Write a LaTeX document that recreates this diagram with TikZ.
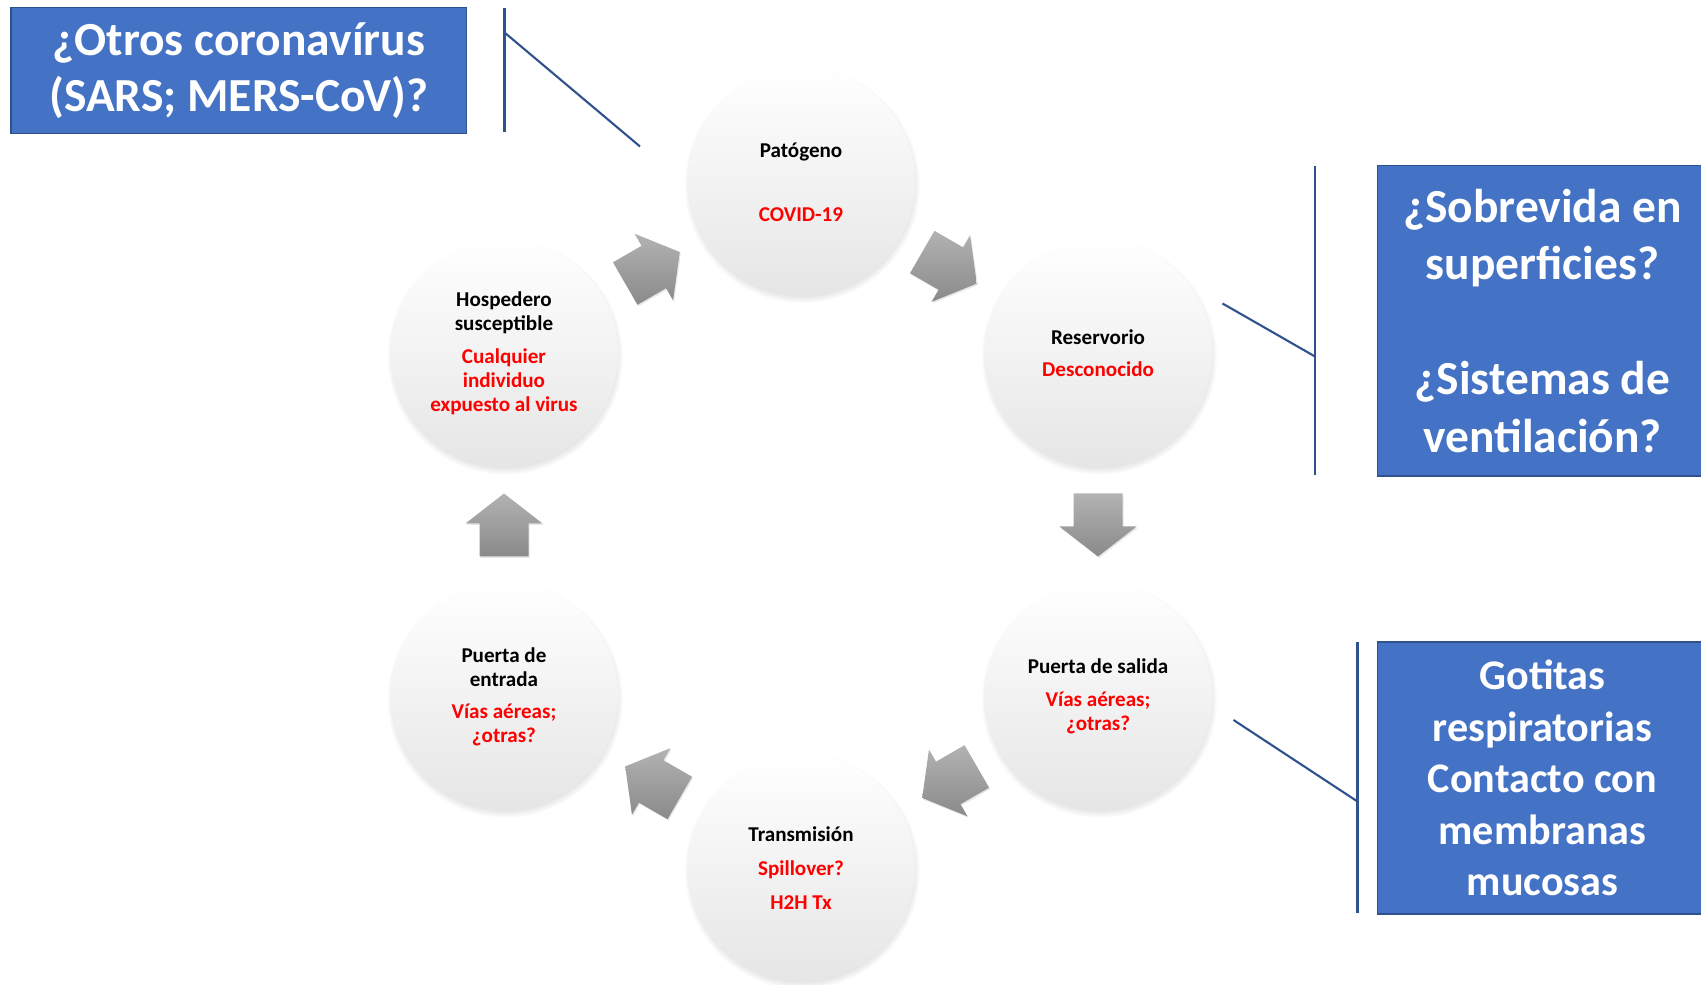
\documentclass[tikz,border=0pt]{standalone}
\usepackage{fontspec}
\setmainfont{Carlito}
\usepackage{tikz}
\usetikzlibrary{calc,positioning,shadows,fadings}
\definecolor{boxblue}{RGB}{68,114,196}
\definecolor{boxedge}{RGB}{47,82,143}
\definecolor{linkblue}{RGB}{47,82,143}
\newcommand\rl[1]{\textcolor{red}{#1}}

\tikzset{
  stage/.style={circle,minimum size=4.56cm,inner sep=0pt,align=center,
    font=\fontsize{12pt}{13.66pt}\selectfont\bfseries,
    top color=white,bottom color=black!10,
    circular drop shadow={shadow xshift=0.02cm,shadow yshift=-0.06cm,shadow scale=1.035,opacity=0.45}},
  qbox/.style={rectangle,fill=boxblue,draw=boxedge,line width=0.9pt,text=white,
    align=center,inner sep=0pt},
  link/.style={draw=linkblue,line width=1.2pt},
  arrowfill/.style={top color=black!30,bottom color=black!46,
    drop shadow={shadow xshift=0.02cm,shadow yshift=-0.03cm,opacity=0.2}},
  cyclearrow/.pic={
    \path[arrowfill] (-0.63,-0.49) -- (0.03,-0.49) -- (0.03,-0.77) -- (0.63,0)
      -- (0.03,0.77) -- (0.03,0.49) -- (-0.63,0.49) -- cycle;
  }
}

\begin{document}
\begin{tikzpicture}
  \useasboundingbox (0,0) rectangle (34.02,19.70);
  % the cycle
  \coordinate (hub) at (16.02,9.20);
  \foreach \a in {0,60,120,180,240,300}
    \pic[rotate=\a-90] at ($(hub)+(\a:5.94)$) {cyclearrow};
  \node[stage] (pat) at ($(hub)+(90:6.86)$) {Patógeno\\[22.8pt]\rl{COVID-19}};
  \node[stage] (res) at ($(hub)+(30:6.86)$) {Reservorio\\[4.6pt]\rl{Desconocido}};
  \node[stage] (sal) at ($(hub)+(-30:6.86)$) {Puerta de salida\\[5.1pt]\rl{Vías aéreas;}\\\rl{¿otras?}};
  \node[stage] (tra) at ($(hub)+(-90:6.86)$) {Transmisión\\[5.6pt]\rl{Spillover?}\\[5.6pt]\rl{H2H Tx}};
  \node[stage] (ent) at ($(hub)+(-150:6.86)$) {Puerta de\\entrada\\[4.6pt]\rl{Vías aéreas;}\\\rl{¿otras?}};
  \node[stage] (hos) at ($(hub)+(150:6.86)$) {Hospedero\\susceptible\\[5.1pt]\rl{Cualquier}\\\rl{individuo}\\\rl{expuesto al virus}};
  % question boxes
  \node[qbox,minimum width=9.11cm,minimum height=2.52cm,
    font=\fontsize{27pt}{32.1pt}\selectfont\bfseries] (q1) at (4.775,18.29)
    {¿Otros coronavírus\\(SARS; MERS-CoV)?};
  \node[qbox,minimum width=6.6cm,minimum height=6.21cm,
    font=\fontsize{27pt}{32.7pt}\selectfont\bfseries] (q2) at (30.85,13.285)
    {¿Sobrevida en\\superficies?\\[32.7pt]¿Sistemas de\\ventilación?};
  \node[qbox,minimum width=6.6cm,minimum height=5.44cm,
    font=\fontsize{24pt}{29.3pt}\selectfont\bfseries] (q3) at (30.85,4.14)
    {Gotitas\\respiratorias\\Contacto con\\membranas\\mucosas};
  % brackets and leaders
  \coordinate (k1top) at (10.09,19.53);
  \coordinate (k1bot) at (10.09,17.05);
  \coordinate (k1) at (10.09,19.05);
  \coordinate (k1end) at (12.80,16.77);
  \draw[link] (k1top) -- (k1bot);
  \draw[link] (k1) -- (k1end);
  \coordinate (k2top) at (26.30,16.38);
  \coordinate (k2bot) at (26.30,10.20);
  \coordinate (k2) at (26.30,12.57);
  \coordinate (k2end) at (24.45,13.63);
  \draw[link] (k2top) -- (k2bot);
  \draw[link] (k2) -- (k2end);
  \coordinate (k3top) at (27.15,6.85);
  \coordinate (k3bot) at (27.15,1.44);
  \coordinate (k3) at (27.15,3.67);
  \coordinate (k3end) at (24.67,5.30);
  \draw[link] (k3top) -- (k3bot);
  \draw[link] (k3) -- (k3end);
\end{tikzpicture}
\end{document}
